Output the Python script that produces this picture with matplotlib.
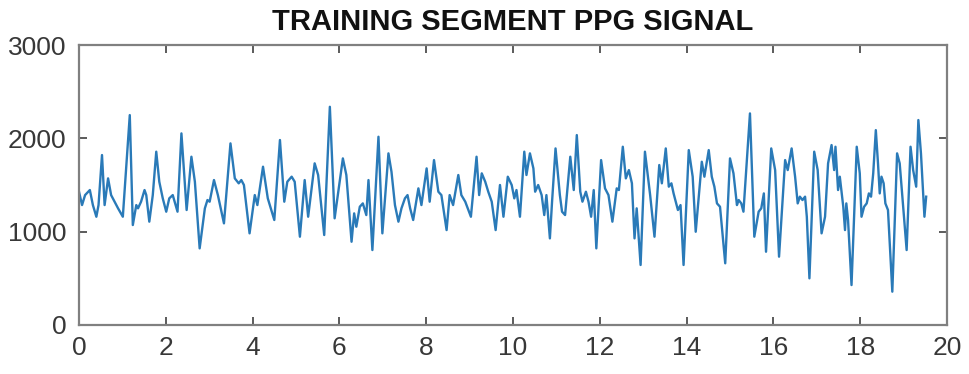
import matplotlib
matplotlib.use("Agg")
import matplotlib.pyplot as plt

# Time (s) and PPG amplitude
t = [0.00, 0.07, 0.14, 0.25, 0.32, 0.40, 0.45, 0.53, 0.59, 0.67, 0.74, 0.82, 0.90, 1.01, 1.17, 1.24,
     1.32, 1.36, 1.43, 1.51, 1.55, 1.62, 1.70, 1.78, 1.85, 1.93, 2.01, 2.08, 2.16, 2.27, 2.36, 2.48,
     2.59, 2.67, 2.78, 2.90, 2.96, 3.01, 3.11, 3.20, 3.34, 3.49, 3.59, 3.68, 3.74, 3.80, 3.93, 4.05,
     4.11, 4.24, 4.35, 4.50, 4.63, 4.73, 4.80, 4.90, 4.97, 5.09, 5.20, 5.28, 5.43, 5.51, 5.65, 5.78,
     5.89, 6.08, 6.16, 6.28, 6.34, 6.39, 6.47, 6.54, 6.62, 6.67, 6.76, 6.90, 6.99, 7.13, 7.20, 7.28,
     7.36, 7.43, 7.51, 7.57, 7.63, 7.70, 7.82, 7.89, 8.01, 8.08, 8.18, 8.28, 8.35, 8.47, 8.54, 8.62,
     8.74, 8.81, 8.90, 9.03, 9.16, 9.22, 9.28, 9.36, 9.43, 9.51, 9.60, 9.70, 9.78, 9.88, 9.97, 10.03,
     10.08, 10.16, 10.26, 10.31, 10.39, 10.47, 10.51, 10.58, 10.66, 10.72, 10.77, 10.85, 10.90, 10.98,
     11.08, 11.13, 11.20, 11.32, 11.40, 11.47, 11.55, 11.60, 11.68, 11.74, 11.80, 11.86, 11.92, 12.03,
     12.12, 12.20, 12.29, 12.39, 12.44, 12.53, 12.60, 12.67, 12.74, 12.80, 12.85, 12.94, 13.04, 13.16,
     13.26, 13.37, 13.43, 13.52, 13.59, 13.65, 13.70, 13.80, 13.86, 13.93, 14.05, 14.14, 14.21, 14.35,
     14.41, 14.51, 14.58, 14.64, 14.70, 14.77, 14.89, 15.00, 15.08, 15.16, 15.20, 15.26, 15.31, 15.46,
     15.56, 15.66, 15.72, 15.78, 15.83, 15.95, 16.04, 16.13, 16.27, 16.33, 16.42, 16.50, 16.56, 16.61,
     16.67, 16.73, 16.77, 16.83, 16.94, 17.02, 17.11, 17.19, 17.26, 17.34, 17.40, 17.43, 17.49, 17.53,
     17.61, 17.65, 17.68, 17.72, 17.80, 17.92, 17.99, 18.03, 18.09, 18.15, 18.20, 18.25, 18.30, 18.36,
     18.41, 18.45, 18.49, 18.54, 18.58, 18.64, 18.74, 18.85, 18.91, 18.99, 19.07, 19.16, 19.22, 19.29,
     19.34, 19.40, 19.48, 19.52]
ppg = [1428, 1285, 1392, 1446, 1285, 1160, 1285, 1821, 1285, 1571, 1392, 1321, 1250, 1160, 2249, 1071,
       1285, 1250, 1321, 1446, 1392, 1107, 1392, 1857, 1535, 1357, 1214, 1357, 1392, 1214, 2053, 1232,
       1803, 1535, 821, 1250, 1339, 1321, 1553, 1392, 1089, 1946, 1571, 1518, 1553, 1500, 982, 1392,
       1285, 1696, 1357, 1125, 1982, 1321, 1535, 1589, 1535, 946, 1553, 1160, 1732, 1607, 964, 2338,
       1143, 1785, 1607, 892, 1196, 1053, 1267, 1303, 1178, 1553, 803, 2017, 982, 1839, 1642, 1285,
       1107, 1250, 1357, 1392, 1250, 1125, 1464, 1285, 1678, 1321, 1767, 1428, 1392, 1017, 1392, 1285,
       1607, 1392, 1321, 1160, 1803, 1392, 1625, 1535, 1428, 1321, 1017, 1500, 1160, 1589, 1500, 1357,
       1446, 1160, 1857, 1607, 1839, 1678, 1428, 1500, 1392, 1178, 1392, 928, 1321, 1892,
       1392, 1214, 1178, 1803, 1446, 2035, 1428, 1321, 1428, 1321, 1160, 1446, 821, 1767,
       1464, 1392, 1107, 1464, 1446, 1910, 1571, 1660, 1518, 928, 1250, 643, 1857, 1392,
       946, 1714, 1518, 1892, 1482, 1518, 1410, 1232, 1285, 643, 1874, 1589, 999, 1749,
       1589, 1874, 1589, 1482, 1303, 1267, 661, 1785, 1625, 1285, 1339, 1303, 1214, 2267,
       946, 1214, 1250, 1410, 785, 1892, 1660, 732, 1767, 1660, 1892, 1589, 1303, 1375,
       1339, 1375, 1160, 500, 1857, 1660, 982, 1160, 1732, 1928, 1660, 1910, 1446, 1589,
       1267, 1017, 1303, 1125, 428, 1910, 1625, 1160, 1267, 1303, 1410, 1375, 1625, 2088,
       1732, 1410, 1589, 1518, 1303, 1232, 357, 1839, 1732, 1267, 803, 1910, 1660, 1482,
       2196, 1839, 1160, 1375]

title = "TRAINING SEGMENT PPG SIGNAL"
xticks = [0, 2, 4, 6, 8, 10, 12, 14, 16, 18, 20]
yticks = [0, 1000, 2000, 3000]

plt.rcParams['font.family'] = ['Liberation Sans', 'DejaVu Sans']

fig = plt.figure(figsize=(9.7, 3.74), dpi=100)
ax = fig.add_axes([79/970, 1-325/374, (947-79)/970, (325-45)/374])
ax.plot(t, ppg, color='#2a7ab8', lw=1.7)
ax.set_xlim(0, 20)
ax.set_ylim(0, 3000)
ax.set_xticks(xticks)
ax.set_yticks(yticks)
ax.set_xticklabels([str(v) for v in xticks])
ax.set_yticklabels([str(v) for v in yticks])
for s in ax.spines.values():
    s.set_color('#808080')
    s.set_linewidth(1.6)
ax.tick_params(direction='in', length=6, width=1.2, color='#404040',
               top=True, right=True, labelsize=19, labelcolor='#383838')
ax.tick_params(axis='x', pad=8)
ax.tick_params(axis='y', pad=9)
ax.set_title(title, fontsize=21, fontweight='bold', color='#111111', pad=11)
fig.savefig("out.png", dpi=100)
